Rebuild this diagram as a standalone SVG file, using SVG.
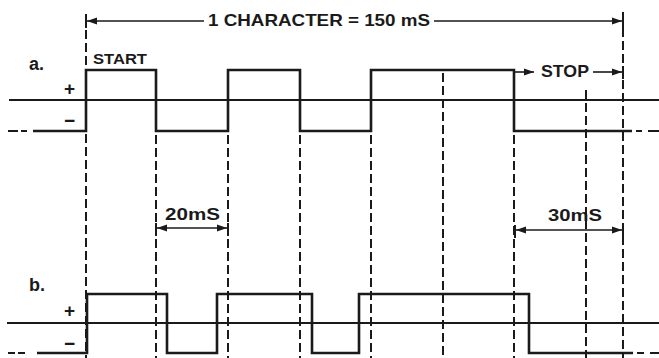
<svg xmlns="http://www.w3.org/2000/svg" width="659" height="358" viewBox="0 0 659 358">
<style>
.bg{fill:#ffffff}
.wave{fill:none;stroke:#1a1a1a;stroke-width:2.6;stroke-linejoin:miter}
.zero{fill:none;stroke:#1a1a1a;stroke-width:1.8}
.grid{fill:none;stroke:#1a1a1a;stroke-width:2;stroke-dasharray:9 4}
.dash{fill:none;stroke:#1a1a1a;stroke-width:2.2}
.dim{fill:none;stroke:#1a1a1a;stroke-width:1.6}
.tick{fill:none;stroke:#1a1a1a;stroke-width:2}
.lbl{font-family:"Liberation Sans",Arial,sans-serif;font-weight:bold;fill:#1a1a1a}
</style>
<defs>
<marker id="ah" markerUnits="userSpaceOnUse" markerWidth="11" markerHeight="8" refX="10" refY="4" orient="auto-start-reverse">
<path d="M0,0.5 L10,4 L0,7.5 z" fill="#1a1a1a"/>
</marker>
</defs>
<rect class="bg" x="0" y="0" width="659" height="358"/>

<g id="grid-lines">
<line class="grid" x1="86" y1="30" x2="86" y2="358"/>
<line class="grid" x1="156" y1="135" x2="156" y2="358"/>
<line class="grid" x1="228" y1="135" x2="228" y2="358"/>
<line class="grid" x1="300" y1="135" x2="300" y2="358"/>
<line class="grid" x1="371" y1="135" x2="371" y2="358"/>
<line class="grid" x1="443" y1="73" x2="443" y2="358"/>
<line class="grid" x1="514" y1="135" x2="514" y2="358"/>
<line class="grid" x1="586" y1="90" x2="586" y2="358"/>
<line class="grid" x1="623" y1="28" x2="623" y2="358"/>
</g>

<g id="waveform-a">
<line class="zero" x1="9" y1="100" x2="659" y2="100"/>
<path class="wave" d="M33 131 H86 V70 H156 V131 H228 V70 H300 V131 H371 V70 H514 V131 H632"/>
<path class="dash" d="M8 131 H18 M21 131 H27 M636 131 H642 M648 131 H659"/>
<text class="lbl" x="29" y="70" font-size="18">a.</text>
<text class="lbl" x="64" y="95" font-size="19">+</text>
<text class="lbl" x="64" y="127" font-size="19">−</text>
<text class="lbl" x="93" y="64" font-size="15.5" textLength="54" lengthAdjust="spacingAndGlyphs">START</text>
</g>

<g id="waveform-b">
<line class="zero" x1="7" y1="323" x2="659" y2="323"/>
<path class="wave" d="M37 353 H87 V294 H167 V353 H217 V294 H312 V353 H359 V294 H529 V353 H633"/>
<path class="dash" d="M8 353 H15 M18 353 H25 M637 353 H644 M650 353 H659"/>
<text class="lbl" x="29" y="291" font-size="18">b.</text>
<text class="lbl" x="64" y="317" font-size="19">+</text>
<text class="lbl" x="64" y="350" font-size="19">−</text>
</g>

<g id="connectors">
<line class="tick" x1="86" y1="14" x2="86" y2="28"/>
<line class="tick" x1="623" y1="12" x2="623" y2="28"/>
<line class="dim" x1="87" y1="21" x2="204" y2="21" marker-start="url(#ah)"/>
<line class="dim" x1="434" y1="21" x2="622" y2="21" marker-end="url(#ah)"/>
<text class="lbl" x="208" y="26" font-size="16.5" textLength="222" lengthAdjust="spacingAndGlyphs">1 CHARACTER = 150 mS</text>

<line class="dim" x1="514" y1="72" x2="534" y2="72" marker-end="url(#ah)"/>
<text class="lbl" x="541" y="77" font-size="16.5" textLength="48" lengthAdjust="spacingAndGlyphs">STOP</text>
<line class="dim" x1="593" y1="72" x2="622" y2="72" marker-end="url(#ah)"/>
<line class="tick" x1="623" y1="66" x2="623" y2="79"/>

<line class="tick" x1="156" y1="223" x2="156" y2="236"/>
<line class="tick" x1="228" y1="223" x2="228" y2="236"/>
<line class="dim" x1="157" y1="228" x2="227" y2="228" marker-start="url(#ah)" marker-end="url(#ah)"/>
<text class="lbl" x="165" y="220" font-size="16.5" textLength="55" lengthAdjust="spacingAndGlyphs">20mS</text>

<line class="tick" x1="515" y1="225" x2="515" y2="238"/>
<line class="tick" x1="623" y1="225" x2="623" y2="238"/>
<line class="dim" x1="516" y1="230" x2="622" y2="230" marker-start="url(#ah)" marker-end="url(#ah)"/>
<text class="lbl" x="548" y="221" font-size="16.5" textLength="54" lengthAdjust="spacingAndGlyphs">30mS</text>
</g>
</svg>
